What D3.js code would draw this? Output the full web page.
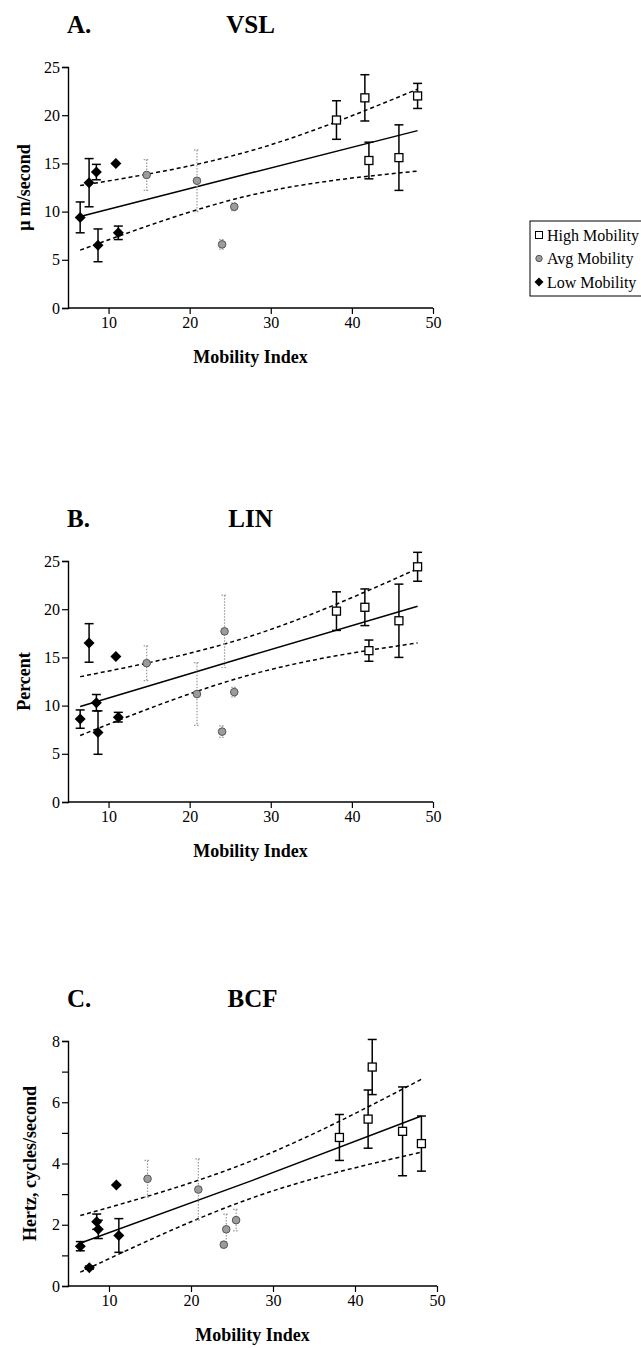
<!DOCTYPE html>
<html>
<head>
<meta charset="utf-8">
<script src="https://cdn.jsdelivr.net/npm/d3@7"></script>
<style>
  body { margin: 0; background: #fff; }
  svg { display: block; font-family: "Liberation Serif", "Times New Roman", serif; }
</style>
</head>
<body>
<script>
// mobility index of each sample, per group
var indexLow  = [6.5, 7.6, 8.5, 8.7, 10.9, 11.2];
var indexAvg  = [14.7, 20.9, 24.0, 24.3, 25.5];
var indexHigh = [38.1, 41.6, 42.1, 45.8, 48.1];

// A. VSL (um/second)
var vslLow     = [9.4, 13.0, 14.1, 6.5, 15.0, 7.8];
var vslLowErr  = [1.6, 2.5, 0.8, 1.7, 0, 0.7];
var vslAvg     = [13.8, 13.2, 6.6, null, 10.5];
var vslAvgErr  = [1.6, 3.2, 0.5, null, 0.4];
var vslHigh    = [19.5, 21.8, 15.3, 15.6, 22.0];
var vslHighErr = [2.0, 2.4, 1.9, 3.4, 1.3];

// B. LIN (percent)
var linLow     = [8.6, 16.5, 10.3, 7.2, 15.1, 8.8];
var linLowErr  = [0.95, 2.0, 0.85, 2.25, 0, 0.5];
var linAvg     = [14.4, 11.2, 7.3, 17.7, 11.4];
var linAvgErr  = [1.8, 3.25, 0.6, 3.75, 0.5];
var linHigh    = [19.8, 20.2, 15.7, 18.8, 24.4];
var linHighErr = [2.0, 1.9, 1.1, 3.8, 1.5];

// C. BCF (Hz)
var bcfLow     = [1.3, 0.6, 2.1, 1.85, 3.3, 1.65];
var bcfLowErr  = [0.15, 0.05, 0.25, 0.3, 0, 0.55];
var bcfAvg     = [3.5, 3.15, 1.35, 1.85, 2.15];
var bcfAvgErr  = [0.6, 1.0, 0.1, 0.5, 0.35];
var bcfHigh    = [4.85, 5.45, 7.15, 5.05, 4.65];
var bcfHighErr = [0.75, 0.95, 0.9, 1.45, 0.9];

// regression line and 95% band, read at three x positions
var fitX     = [6.5, 27.5, 48.1];
var vslFit   = [9.5, 14.0, 18.4];
var vslUpper = [12.7, 16.3, 22.7];
var vslLower = [6.0, 11.7, 14.2];
var linFit   = [9.9, 15.2, 20.3];
var linUpper = [13.0, 17.2, 24.2];
var linLower = [6.9, 13.2, 16.5];
var bcfFit   = [1.4, 3.45, 5.55];
var bcfUpper = [2.3, 4.1, 6.75];
var bcfLower = [0.45, 2.88, 4.37];

var xTicks = [10, 20, 30, 40, 50];
var legendLabels = ["High Mobility", "Avg Mobility", "Low Mobility"];

var W = 641, H = 1348;
var svg = d3.select("body").append("svg")
    .attr("width", W)
    .attr("height", H);

function zip(xs, ys, es) {
  return xs.map(function(x, i) { return {x: x, y: ys[i], e: es ? es[i] : 0}; })
           .filter(function(d) { return d.y != null; });
}

var diamond = "M0,-5.5L5.5,0L0,5.5L-5.5,0Z";

function drawPanel(p) {
  var g = svg.append("g").attr("transform", "translate(" + p.left + "," + p.top + ")");

  var x = d3.scaleLinear().domain([5, 50]).range([0, p.width]);
  var y = d3.scaleLinear().domain([0, p.ymax]).range([p.height, 0]);

  // titles
  svg.append("text")
      .attr("x", p.left - 1).attr("y", p.top - 34)
      .style("font-size", "25px").style("font-weight", "bold")
      .text(p.letter);
  svg.append("text")
      .attr("x", p.left + p.width / 2).attr("y", p.top - 34)
      .style("font-size", "25px").style("font-weight", "bold")
      .style("text-anchor", "middle")
      .text(p.name);

  // axes
  var xAxis = g.append("g")
      .attr("transform", "translate(0," + p.height + ")")
      .call(d3.axisBottom(x).tickValues(xTicks).tickSizeOuter(0).tickSize(6).tickPadding(3));
  var yAxis = g.append("g")
      .call(d3.axisLeft(y).tickValues(p.yTicks).tickSizeOuter(0).tickSize(6).tickPadding(2)
        .tickFormat(function(d) { return p.yLabels.indexOf(d) >= 0 ? d : ""; }));
  [xAxis, yAxis].forEach(function(a) {
    a.select(".domain").attr("stroke", "#000").attr("stroke-width", 1.4);
    a.selectAll(".tick line").attr("stroke", "#000").attr("stroke-width", 1.2);
    a.selectAll(".tick text").style("font-size", "16px")
      .style("font-family", "'Liberation Serif', 'Times New Roman', serif").attr("fill", "#000");
  });
  // extend x axis line to the y axis
  xAxis.select(".domain").attr("d", "M0,0H" + x(50));

  // axis labels
  svg.append("text")
      .attr("x", p.left + p.width / 2).attr("y", p.top + p.height + 55)
      .style("font-size", "18px").style("font-weight", "bold")
      .style("text-anchor", "middle")
      .text("Mobility Index");
  svg.append("text")
      .attr("transform", "translate(" + p.labelX + "," + (p.top + p.height / 2) + ") rotate(-90)")
      .style("font-size", "18px").style("font-weight", "bold")
      .style("text-anchor", "middle")
      .text(p.yTitle);

  // fit line and confidence band
  function fitPts(ys) { return fitX.map(function(v, i) { return [x(v), y(ys[i])]; }); }
  var line = d3.line().curve(d3.curveNatural);
  g.append("path").attr("d", line(fitPts(p.fit)))
      .attr("fill", "none").attr("stroke", "#000").attr("stroke-width", 1.5);
  [p.upper, p.lower].forEach(function(b) {
    g.append("path").attr("d", line(fitPts(b)))
        .attr("fill", "none").attr("stroke", "#000").attr("stroke-width", 1.5)
        .attr("stroke-dasharray", "4,3");
  });

  // error bars
  function bars(data, color, width, dash, cap) {
    var eb = g.append("g").selectAll("g").data(data.filter(function(d) { return d.e > 0; }))
      .enter().append("g")
        .attr("stroke", color).attr("stroke-width", width)
        .attr("stroke-dasharray", dash);
    eb.append("line")
        .attr("x1", function(d) { return x(d.x); }).attr("x2", function(d) { return x(d.x); })
        .attr("y1", function(d) { return y(d.y + d.e); }).attr("y2", function(d) { return y(d.y - d.e); });
    eb.append("line")
        .attr("x1", function(d) { return x(d.x) - cap; }).attr("x2", function(d) { return x(d.x) + cap; })
        .attr("y1", function(d) { return y(d.y + d.e); }).attr("y2", function(d) { return y(d.y + d.e); });
    eb.append("line")
        .attr("x1", function(d) { return x(d.x) - cap; }).attr("x2", function(d) { return x(d.x) + cap; })
        .attr("y1", function(d) { return y(d.y - d.e); }).attr("y2", function(d) { return y(d.y - d.e); });
  }

  var low = zip(indexLow, p.low, p.lowErr);
  var avg = zip(indexAvg, p.avg, p.avgErr);
  var high = zip(indexHigh, p.high, p.highErr);

  bars(avg, "#9a9a9a", 1.2, "1.5,1.5", 3);
  bars(low, "#000", 1.5, null, 4.5);
  bars(high, "#000", 1.5, null, 4.5);

  // markers
  g.append("g").selectAll("circle").data(avg).enter().append("circle")
      .attr("cx", function(d) { return x(d.x); })
      .attr("cy", function(d) { return y(d.y); })
      .attr("r", 3.8)
      .attr("fill", "#9c9c9c").attr("stroke", "#555").attr("stroke-width", 1);
  g.append("g").selectAll("path").data(low).enter().append("path")
      .attr("d", diamond)
      .attr("transform", function(d) { return "translate(" + x(d.x) + "," + y(d.y) + ")"; })
      .attr("fill", "#000");
  g.append("g").selectAll("rect").data(high).enter().append("rect")
      .attr("x", function(d) { return x(d.x) - 4; })
      .attr("y", function(d) { return y(d.y) - 4; })
      .attr("width", 8).attr("height", 8)
      .attr("fill", "#fff").attr("stroke", "#000").attr("stroke-width", 1.3);
}

drawPanel({letter: "A.", name: "VSL", yTitle: "\u03bc m/second", labelX: 30,
  left: 68, top: 67, width: 365, height: 241, ymax: 25,
  yTicks: [0, 5, 10, 15, 20, 25], yLabels: [0, 5, 10, 15, 20, 25],
  low: vslLow, lowErr: vslLowErr, avg: vslAvg, avgErr: vslAvgErr, high: vslHigh, highErr: vslHighErr,
  fit: vslFit, upper: vslUpper, lower: vslLower});

drawPanel({letter: "B.", name: "LIN", yTitle: "Percent", labelX: 30,
  left: 68, top: 561, width: 365, height: 241, ymax: 25,
  yTicks: [0, 5, 10, 15, 20, 25], yLabels: [0, 5, 10, 15, 20, 25],
  low: linLow, lowErr: linLowErr, avg: linAvg, avgErr: linAvgErr, high: linHigh, highErr: linHighErr,
  fit: linFit, upper: linUpper, lower: linLower});

drawPanel({letter: "C.", name: "BCF", yTitle: "Hertz, cycles/second", labelX: 36,
  left: 68, top: 1041, width: 369, height: 245, ymax: 8,
  yTicks: [0, 1, 2, 3, 4, 5, 6, 7, 8], yLabels: [0, 2, 4, 6, 8],
  low: bcfLow, lowErr: bcfLowErr, avg: bcfAvg, avgErr: bcfAvgErr, high: bcfHigh, highErr: bcfHighErr,
  fit: bcfFit, upper: bcfUpper, lower: bcfLower});

// legend (sits beside panel A)
var lg = svg.append("g").attr("transform", "translate(530,221)");
lg.append("rect").attr("x", 0).attr("y", 0).attr("width", 112).attr("height", 75)
    .attr("fill", "#fff").attr("stroke", "#000").attr("stroke-width", 1);
legendLabels.forEach(function(t, i) {
  var cy = 14 + i * 23.5;
  var row = lg.append("g").attr("transform", "translate(9," + cy + ")");
  if (i === 0) {
    row.append("rect").attr("x", -3.5).attr("y", -3.5).attr("width", 7).attr("height", 7)
        .attr("fill", "#fff").attr("stroke", "#000").attr("stroke-width", 1);
  } else if (i === 1) {
    row.append("circle").attr("r", 3.2).attr("fill", "#9c9c9c").attr("stroke", "#555");
  } else {
    row.append("path").attr("d", "M0,-4.5L4.5,0L0,4.5L-4.5,0Z").attr("fill", "#000");
  }
  row.append("text").attr("x", 8).attr("y", 5.5)
      .style("font-size", "16px").text(t);
});
</script>
</body>
</html>
